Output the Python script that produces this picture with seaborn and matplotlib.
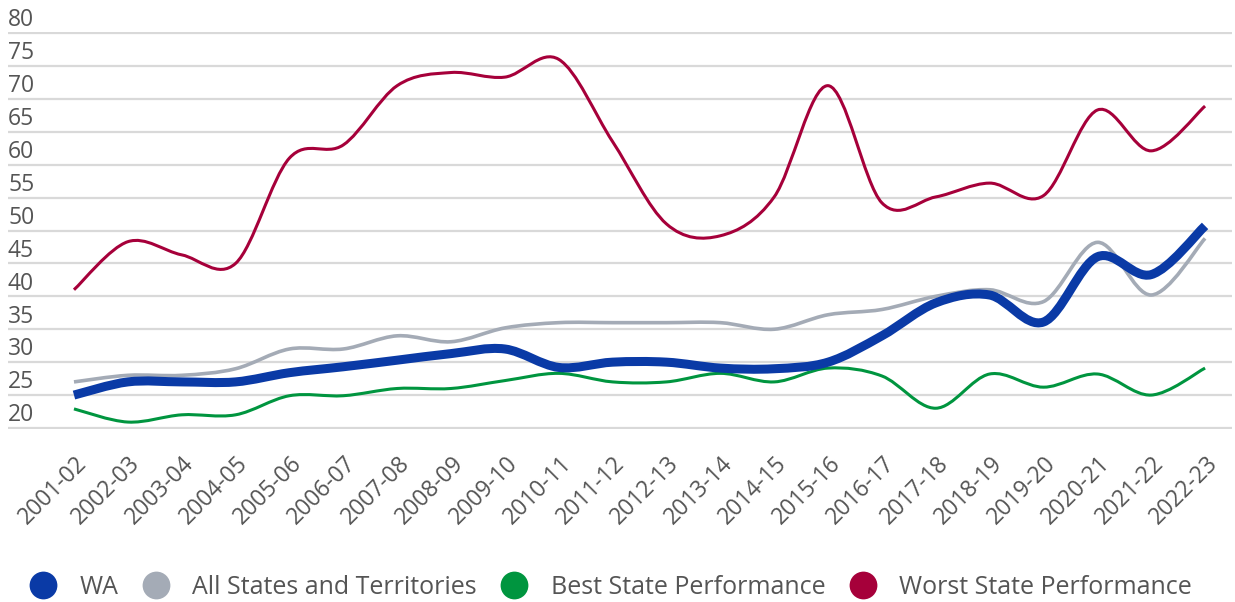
import numpy as np
import pandas as pd
import matplotlib
matplotlib.use("Agg")
import matplotlib.pyplot as plt
import matplotlib.transforms as mtransforms
from matplotlib.path import Path
from matplotlib.patches import PathPatch
from matplotlib.lines import Line2D
import seaborn as sns

years = ['2001-02', '2002-03', '2003-04', '2004-05', '2005-06', '2006-07', '2007-08',
         '2008-09', '2009-10', '2010-11', '2011-12', '2012-13', '2013-14', '2014-15',
         '2015-16', '2016-17', '2017-18', '2018-19', '2019-20', '2020-21', '2021-22',
         '2022-23']

wa = [25, 27, 27, 27, 28.4, 29.3, 30.3, 31.3, 32, 29.2, 30, 30, 29.1, 29,
      30, 34, 39, 40.2, 36.1, 46, 43.3, 50.7]
all_states = [27, 28, 28, 29, 32, 32, 34, 33.1, 35.2, 36, 36, 36, 36, 35,
              37.2, 38, 40, 41, 39.2, 48.2, 40.2, 48.8]
best_state = [22.9, 20.9, 22, 22, 24.9, 24.9, 26, 26, 27.2, 28.3, 27, 27, 28.3, 27,
              29.1, 27.9, 23, 28.2, 26.2, 28.2, 25, 29.1]
worst_state = [41, 48.3, 46.3, 45, 61, 63, 72, 74, 73.3, 76, 63.5, 51, 49.2, 55.1,
               72, 54.2, 55.1, 57.2, 55.3, 68.3, 62.1, 68.9]

y_ticks = [20, 25, 30, 35, 40, 45, 50, 55, 60, 65, 70, 75, 80]

series_names = ['WA', 'All States and Territories', 'Best State Performance', 'Worst State Performance']
colors = {'WA': '#0a3aa6', 'All States and Territories': '#a4abb6',
          'Best State Performance': '#00953f', 'Worst State Performance': '#a6003a'}
widths = {'WA': 6.5, 'All States and Territories': 2.6,
          'Best State Performance': 2.2, 'Worst State Performance': 2.2}

df = pd.DataFrame({'Year': years, 'WA': wa, 'All States and Territories': all_states,
                   'Best State Performance': best_state, 'Worst State Performance': worst_state})
df['idx'] = np.arange(len(df))

sns.set_theme(style='white')
plt.rcParams['font.family'] = ['Open Sans', 'DejaVu Sans']
text_color = '#555555'


def smooth_path(x, y):
    # Catmull-Rom style bezier through the points (like a spreadsheet "smoothed line")
    pts = np.column_stack([x, y]).astype(float)
    n = len(pts)
    verts = [pts[0]]
    codes = [Path.MOVETO]
    for i in range(n - 1):
        p0 = pts[i - 1] if i > 0 else pts[i]
        p1 = pts[i]
        p2 = pts[i + 1]
        p3 = pts[i + 2] if i + 2 < n else pts[i + 1]
        c1 = p1 + (p2 - p0) / 6.0
        c2 = p2 - (p3 - p1) / 6.0
        verts += [c1, c2, p2]
        codes += [Path.CURVE4] * 3
    return Path(verts, codes)


fig = plt.figure(figsize=(12.35, 6.02), dpi=100)
ax = fig.add_axes([8 / 1235, (602 - 429.3) / 602, 1224 / 1235, (429.3 - 31.7) / 602])

# draw order: worst, best, all states, WA on top
for name in ['Worst State Performance', 'Best State Performance', 'All States and Territories', 'WA']:
    patch = PathPatch(smooth_path(df['idx'], df[name]), facecolor='none',
                      edgecolor=colors[name], lw=widths[name], capstyle='butt',
                      joinstyle='round', zorder=3)
    ax.add_patch(patch)

ax.set_xlim(-1.225, 21.5)
ax.set_ylim(19.8, 80.2)

ax.set_yticks(y_ticks)
ax.set_yticklabels([])
ax.tick_params(axis='y', length=0)
ax.yaxis.grid(True, color='#d9d9d9', lw=1.6)
ax.xaxis.grid(False)
sns.despine(ax=ax, left=True, bottom=True, top=True, right=True)

# y labels sit just above their gridlines
ylab_trans = mtransforms.blended_transform_factory(ax.transAxes, ax.transData)
for v in y_ticks:
    ax.annotate(str(v), xy=(0, v), xycoords=ylab_trans, xytext=(0, 0.5),
                textcoords='offset points', ha='left', va='bottom',
                fontsize=16.5, color=text_color)

ax.set_xticks(df['idx'])
ax.set_xticklabels(years, rotation=45, ha='right', va='center',
                   rotation_mode='anchor', fontsize=16.5, color=text_color)
ax.tick_params(axis='x', length=0, pad=22)
shift = mtransforms.ScaledTranslation(9 / 100, 0, fig.dpi_scale_trans)
for lbl in ax.get_xticklabels():
    lbl.set_transform(lbl.get_transform() + shift)

handles = [Line2D([], [], ls='none', marker='o', markersize=20, markeredgewidth=0,
                  markerfacecolor=colors[n]) for n in series_names]
leg = fig.legend(handles, series_names, loc='center', bbox_to_anchor=(0.494, 1 - 587 / 602),
                 ncol=4, frameon=False, fontsize=18, handlelength=1.2, handletextpad=0.85,
                 columnspacing=0.9)
for t in leg.get_texts():
    t.set_color(text_color)

fig.savefig('out.png', dpi=100)
